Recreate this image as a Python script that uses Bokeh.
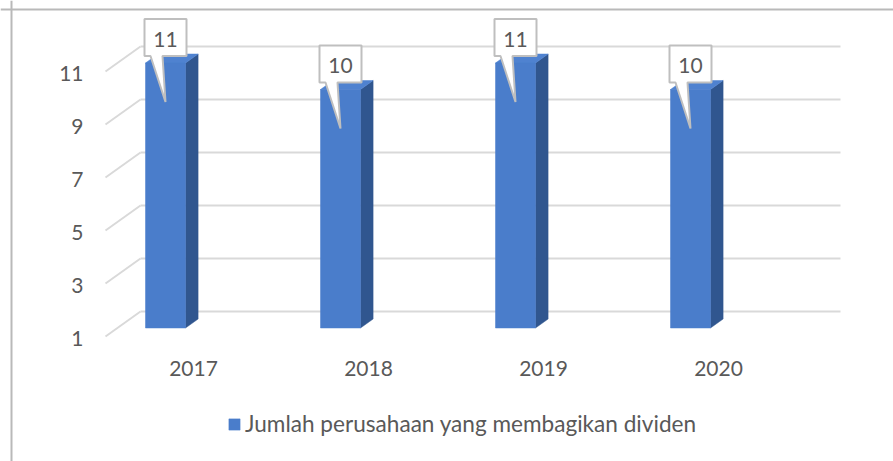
from bokeh.plotting import figure
from bokeh.models import Range1d, Legend, LegendItem, Span
from bokeh.embed import file_html
from bokeh.resources import INLINE
from bokeh.core.properties import value

# ---------------- data ----------------
YEARS = ["2017", "2018", "2019", "2020"]
COUNTS = [11, 10, 11, 10]
Y_TICKS = [1, 3, 5, 7, 9, 11]
SERIES = "Jumlah perusahaan yang membagikan dividen"
BASE = 1

# ---------------- layout (pixel geometry of the 3-D look) ----------------
W, H = 893, 461
PX_X = 175.0      # pixels per category step
PX_Y = 26.5       # pixels per value unit
X0_PX = 193       # pixel x of first category label
Y1_PX = 336       # pixel y of the base value on the front plane

def ux(px):
    return px / PX_X

def uy(px):
    return px / PX_Y

x_start = -X0_PX / PX_X
x_end = (W - X0_PX) / PX_X
y_end = BASE + Y1_PX / PX_Y
y_start = BASE + (Y1_PX - H) / PX_Y

FONT = "Lato"
TXT = "#595959"
GRID = "#d9d9d9"
FRONT = "#4a7dcb"
SIDE = "#30568f"
TOP = "#4f82d0"

BAR_SHIFT = -ux(28)
BAR_HALF = ux(20)
FRONT_LIFT = uy(8.5)
DDX, DDY = ux(12.6), uy(9)
WALL_DX, WALL_DY = ux(35), uy(25)
WALL_LEFT = -ux(53)
WALL_RIGHT = len(YEARS) - 1 + ux(122)

p = figure(width=W, height=H, output_backend="svg", toolbar_location=None,
           x_range=Range1d(x_start, x_end), y_range=Range1d(y_start, y_end),
           x_axis_location=None, y_axis_location=None,
           min_border=0, min_border_left=0, min_border_right=0,
           min_border_top=0, min_border_bottom=0)
p.outline_line_color = None
p.background_fill_color = "white"
p.border_fill_color = "white"
p.grid.visible = False

# back-wall gridlines and side-wall diagonals
p.segment(x0=[WALL_LEFT] * len(Y_TICKS), y0=[t + WALL_DY for t in Y_TICKS],
          x1=[WALL_RIGHT] * len(Y_TICKS), y1=[t + WALL_DY for t in Y_TICKS],
          line_color=GRID, line_width=2)
p.segment(x0=[WALL_LEFT - WALL_DX] * len(Y_TICKS), y0=Y_TICKS,
          x1=[WALL_LEFT] * len(Y_TICKS), y1=[t + WALL_DY for t in Y_TICKS],
          line_color=GRID, line_width=2)

# y tick labels
p.text(x=[WALL_LEFT - WALL_DX - ux(22)] * len(Y_TICKS), y=[t - uy(2) for t in Y_TICKS],
       text=[str(t) for t in Y_TICKS], text_align="right", text_baseline="middle",
       text_font=value(FONT), text_font_size="21px", text_color=TXT)

# category labels
p.text(x=list(range(len(YEARS))), y=[BASE - uy(32)] * len(YEARS), text=YEARS,
       text_align="center", text_baseline="middle",
       text_font=value(FONT), text_font_size="21px", text_color=TXT)

# bars
centers = [i + BAR_SHIFT for i in range(len(YEARS))]
lefts = [c - BAR_HALF for c in centers]
rights = [c + BAR_HALF for c in centers]
bottoms = [BASE + FRONT_LIFT] * len(YEARS)
tops = [v + FRONT_LIFT for v in COUNTS]

side_xs = [[r, r + DDX, r + DDX, r] for r in rights]
side_ys = [[b, b + DDY, t + DDY, t] for b, t in zip(bottoms, tops)]
p.patches(side_xs, side_ys, fill_color=SIDE, line_color=SIDE, line_width=0.5)
top_xs = [[l, r, r + DDX, l + DDX] for l, r in zip(lefts, rights)]
top_ys = [[t, t, t + DDY, t + DDY] for t in tops]
p.patches(top_xs, top_ys, fill_color=TOP, line_color=TOP, line_width=0.5)
front = p.quad(left=lefts, right=rights, bottom=bottoms, top=tops,
               fill_color=FRONT, line_color=FRONT, line_width=0.5)

# callouts
cx, cy, lab = [], [], []
for c, t, v in zip(centers, tops, COUNTS):
    B = t + uy(7)
    T = B + uy(37)
    L, R = c - ux(21), c + ux(21)
    cx.append([L, R, R, c - ux(3), c, c - ux(15), L])
    cy.append([T, T, B, B, B - uy(46), B, B])
    lab.append(((T + B) / 2) - uy(1.5))
p.patches(cx, cy, fill_color="white", line_color="#bfbfbf", line_width=2)
p.text(x=centers, y=lab, text=[str(v) for v in COUNTS], text_align="center",
       text_baseline="middle", text_font=value(FONT), text_font_size="21px",
       text_color=TXT)

# chart border (top and left)
p.add_layout(Span(location=y_end - uy(9), dimension="width",
                  line_color="#b9b9b9", line_width=2))
p.add_layout(Span(location=x_start + ux(11), dimension="height",
                  line_color="#b9b9b9", line_width=2))

legend = Legend(items=[LegendItem(label=SERIES, renderers=[front])],
                location=(227, 24), padding=0, margin=0, spacing=0,
                glyph_width=14, glyph_height=14, label_standoff=4,
                label_text_font=FONT, label_text_font_size="22.6px",
                label_text_color=TXT, border_line_color=None,
                background_fill_alpha=0)
p.add_layout(legend)

open("out.html", "w").write(file_html(p, INLINE))
